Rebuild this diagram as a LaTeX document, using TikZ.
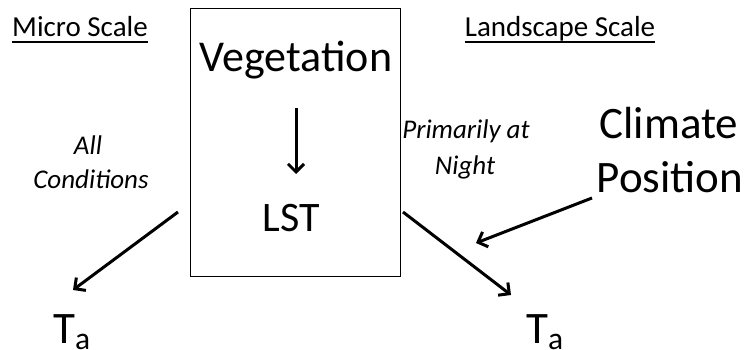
\documentclass[tikz,border=0pt]{standalone}
\usepackage{fontspec}
\setmainfont{Carlito}
\usetikzlibrary{arrows.meta}
\tikzset{
  lbl/.style={inner sep=0pt, anchor=base, font=#1},
  arr/.style={line width=3pt, -{Straight Barb[length=8pt,width=16pt,line width=3pt]}},
  uline/.style={line width=1.6pt}
}
\begin{document}
\begin{tikzpicture}[x=1pt,y=-1pt]
\useasboundingbox (0,0) rectangle (747,350);
\fill[white] (0,0) rectangle (747,350);
% box
\node[draw, line width=1pt, inner sep=0pt, minimum width=210pt, minimum height=267pt] (box) at (295,142.5) {};
% headers
\node[lbl={\fontsize{29}{30}\selectfont}] (micro) at (80,37) {Micro Scale};
\node[lbl={\fontsize{29}{30}\selectfont}] (land) at (560,37) {Landscape Scale};
\draw[uline] ([yshift=-5pt]micro.base west) -- ([yshift=-5pt]micro.base east);
\draw[uline] ([yshift=-5pt]land.base west) -- ([yshift=-5pt]land.base east);
% box contents
\node[lbl={\fontsize{44}{46}\selectfont}] (veg) at (296,72) {Vegetation};
\node[lbl={\fontsize{42}{44}\selectfont}] (lst) at (291,231) {LST};
% side labels
\node[lbl={\fontsize{27}{32}\selectfont\itshape}] (all) at (88,155) {All};
\node[lbl={\fontsize{27}{32}\selectfont\itshape}] (cond) at (91,189) {Conditions};
\node[lbl={\fontsize{27}{32}\selectfont\itshape}] (prim) at (466,139) {Primarily at};
\node[lbl={\fontsize{27}{32}\selectfont\itshape}] (night) at (465,175) {Night};
\node[lbl={\fontsize{45}{46}\selectfont}] (clim) at (669,139) {Climate};
\node[lbl={\fontsize{45}{46}\selectfont}] (pos) at (670,192) {Position};
% T_a
\node[lbl={\fontsize{45}{46}\selectfont}] (ta1) at (72,343) {T\textsubscript{a}};
\node[lbl={\fontsize{45}{46}\selectfont}] (ta2) at (545,343) {T\textsubscript{a}};
% arrow coordinates
\coordinate (v1) at (296,108);
\coordinate (v2) at (296,174);
\coordinate (l1) at (178,212);
\coordinate (l2) at (73,290);
\coordinate (r1) at (403,212);
\coordinate (r2) at (511,295);
\coordinate (c1) at (592,198);
\coordinate (c2) at (476,243);
\draw[arr] (v1) -- (v2);
\draw[arr] (l1) -- (l2);
\draw[arr] (r1) -- (r2);
\draw[arr] (c1) -- (c2);
\end{tikzpicture}
\end{document}
